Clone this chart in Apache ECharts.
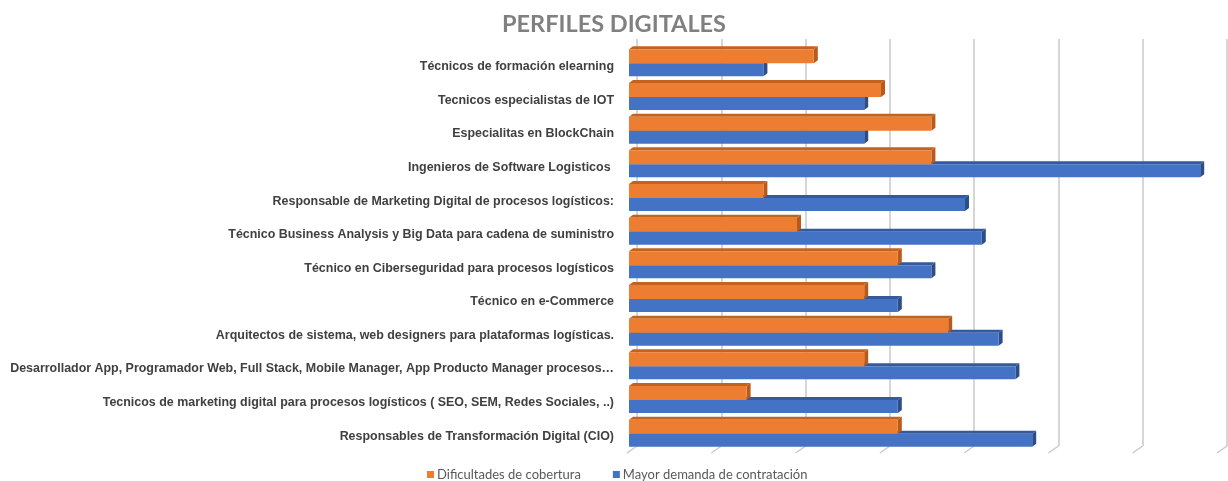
<!DOCTYPE html>
<html>
<head>
<meta charset="utf-8">
<script src="https://cdn.jsdelivr.net/npm/echarts@6/dist/echarts.min.js"></script>
<style>html,body{margin:0;padding:0;background:#fff}#c{width:1228px;height:481px}</style>
</head>
<body>
<div id="c"></div>
<script>
const categories = [
  "Técnicos de formación elearning",
  "Tecnicos especialistas de IOT",
  "Especialitas en BlockChain",
  "Ingenieros de Software Logisticos ",
  "Responsable de Marketing Digital de procesos logísticos:",
  "Técnico Business Analysis y Big Data para cadena de suministro",
  "Técnico en Ciberseguridad para procesos logísticos",
  "Técnico en e-Commerce",
  "Arquitectos de sistema, web designers para plataformas logísticas.",
  "Desarrollador App, Programador Web, Full Stack, Mobile Manager, App Producto Manager procesos…",
  "Tecnicos de marketing digital para procesos logísticos ( SEO, SEM, Redes Sociales, ..)",
  "Responsables de Transformación Digital (CIO)"
];
const dificultades = [11, 15, 18, 18, 8, 10, 16, 14, 19, 14, 7, 16];
const demanda      = [8, 14, 14, 34, 20, 21, 18, 16, 22, 23, 16, 24];
const valueTicks   = [0, 5, 10, 15, 20, 25, 30, 35];
const seriesNames  = ["Dificultades de cobertura", "Mayor demanda de contratación"];

const chart = echarts.init(document.getElementById('c'));

function bar3D(colors, yFrom, yTo) {
  return function (params, api) {
    const cat = api.value(0), val = api.value(1);
    const p0 = api.coord([0, cat]);
    const p1 = api.coord([val, cat]);
    const c = p0[1];
    const x0 = p0[0], x1 = p1[0];
    const y0 = c + yFrom, y1 = c + yTo;
    const dx = 4, dy = -3;
    return {
      type: 'group',
      children: [
        { type: 'polygon', shape: { points: [[x0, y0], [x1, y0], [x1 + dx, y0 + dy], [x0 + dx, y0 + dy]] }, style: { fill: colors.top } },
        { type: 'polygon', shape: { points: [[x1, y0], [x1 + dx, y0 + dy], [x1 + dx, y1 + dy], [x1, y1]] }, style: { fill: colors.side } },
        { type: 'rect', shape: { x: x0, y: y0, width: x1 - x0, height: y1 - y0 }, style: { fill: colors.front } }
      ]
    };
  };
}

const orangeData = dificultades.map((v, i) => [i, v]);
const blueData = demanda.map((v, i) => [i, v]);

chart.setOption({
  animation: false,
  title: {
    text: 'PERFILES DIGITALES',
    left: 'center',
    top: 7,
    textStyle: { fontFamily: 'Lato', fontWeight: 'bold', fontSize: 23.5, color: '#808080' }
  },
  legend: {
    data: seriesNames,
    left: 422,
    top: 463,
    icon: 'rect',
    itemWidth: 7,
    itemHeight: 7,
    itemGap: 32,
    textStyle: { fontFamily: 'Lato', fontSize: 13, color: '#595959', padding: [0, 0, 0, -2] }
  },
  grid: [
    { left: 629, right: 11, top: 46, bottom: 31 },
    { left: 637, right: 1, top: 39, bottom: 35 },
    { left: 629, right: 11, top: 50, bottom: 28 }
  ],
  xAxis: [
    { type: 'value', gridIndex: 0, min: 0, max: 35, interval: 5, axisLabel: { show: false }, axisLine: { show: false }, axisTick: { show: false }, splitLine: { show: false } },
    { type: 'value', gridIndex: 1, min: 0, max: 35, interval: 5, axisLabel: { show: false }, axisLine: { show: false }, axisTick: { show: false },
      splitLine: { show: true, lineStyle: { color: '#c9c9c9', width: 1.5 } } },
    { type: 'value', gridIndex: 2, min: 0, max: 35, show: false }
  ],
  yAxis: [
    { type: 'category', gridIndex: 0, data: categories, inverse: true, show: false },
    { type: 'value', gridIndex: 1, min: 0, max: 1, show: false },
    { type: 'category', gridIndex: 2, data: categories, inverse: true,
      axisLine: { show: false }, axisTick: { show: false },
      axisLabel: { fontFamily: 'Liberation Sans', fontWeight: 'bold', fontSize: 12.45, color: '#404040', margin: 15 } }
  ],
  series: [
    {
      type: 'custom', name: 'floor', xAxisIndex: 1, yAxisIndex: 1, silent: true, clip: false,
      data: valueTicks.map(v => [v, 0]),
      encode: { x: 0, y: 1 },
      renderItem: function (params, api) {
        const p = api.coord([api.value(0), 0]);
        return { type: 'line', shape: { x1: p[0], y1: p[1], x2: p[0] - 10, y2: p[1] + 7 }, style: { stroke: '#c9c9c9', lineWidth: 1.5 } };
      }
    },
    {
      type: 'custom', name: seriesNames[1], xAxisIndex: 0, yAxisIndex: 0, clip: false,
      itemStyle: { color: '#4472C4' },
      data: blueData,
      encode: { x: 1, y: 0 },
      renderItem: bar3D({ front: '#4472C4', top: '#34599c', side: '#2c4d88' }, 0.5, 13.5)
    },
    {
      type: 'custom', name: seriesNames[0], xAxisIndex: 0, yAxisIndex: 0, clip: false,
      itemStyle: { color: '#ED7D31' },
      data: orangeData,
      encode: { x: 1, y: 0 },
      renderItem: bar3D({ front: '#ED7D31', top: '#c4631f', side: '#b9591a' }, -13.5, 0.5)
    }
  ]
});
</script>
</body>
</html>
